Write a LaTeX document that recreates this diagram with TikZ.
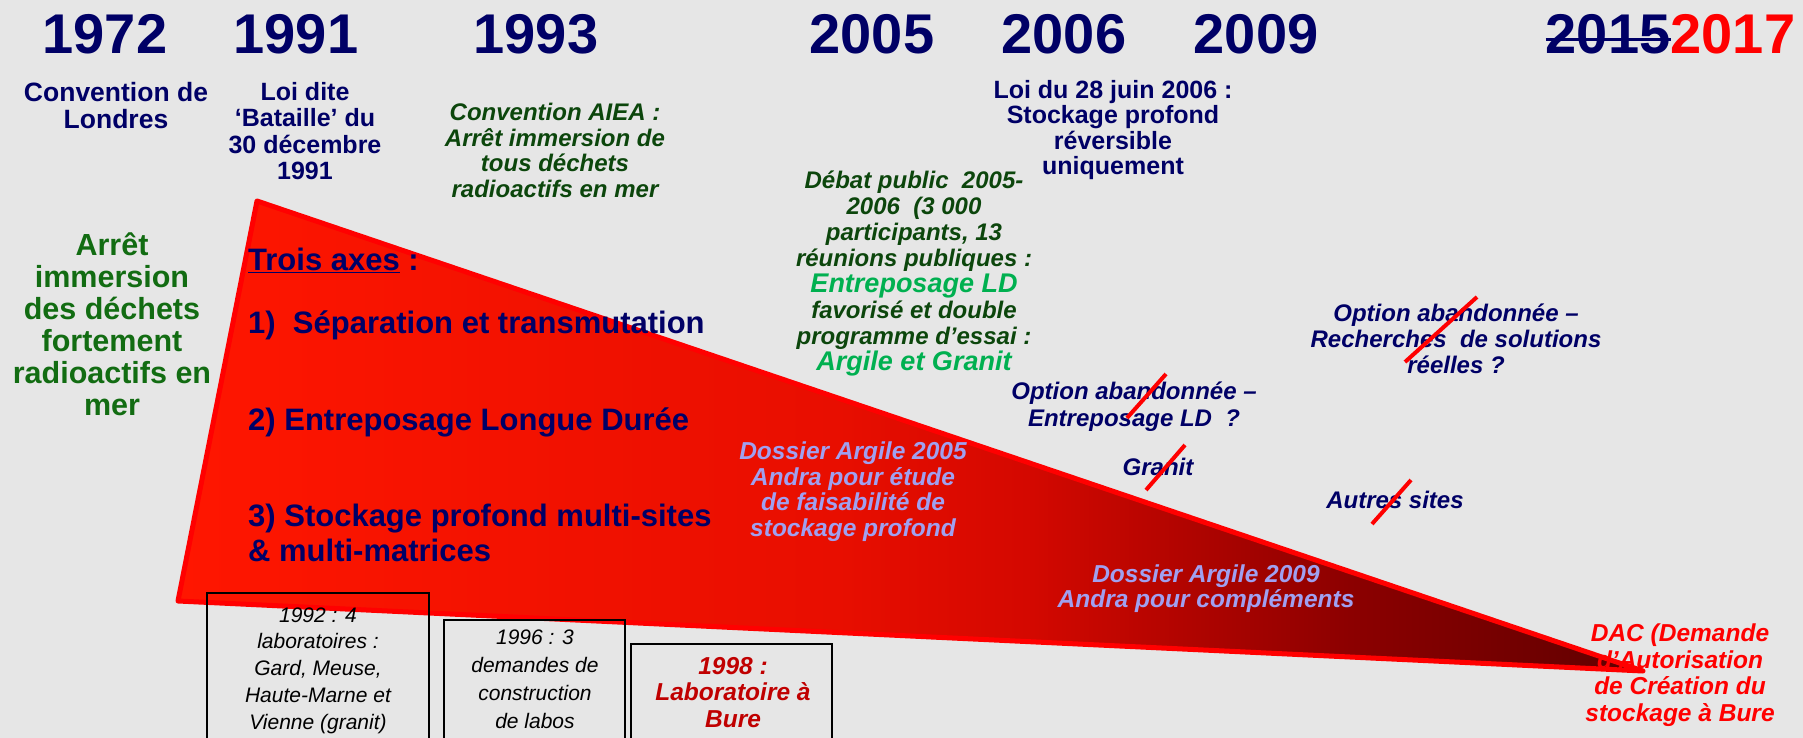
\documentclass[tikz,border=0pt]{standalone}
\usepackage{fontspec}
\setmainfont{Liberation Sans}

\definecolor{bggray}{RGB}{230,230,230}
\definecolor{yearblue}{RGB}{0,0,102}
\definecolor{leafgreen}{RGB}{18,108,18}
\definecolor{darkgreen}{RGB}{12,70,12}
\definecolor{lightgreen}{RGB}{0,176,80}
\definecolor{lavender}{RGB}{160,160,240}
\definecolor{darkred}{RGB}{192,0,0}
\definecolor{fadeA}{RGB}{255,22,0}
\definecolor{fadeB}{RGB}{232,14,0}
\definecolor{fadeC}{RGB}{212,8,0}
\definecolor{fadeD}{RGB}{140,0,0}
\definecolor{fadeE}{RGB}{95,0,0}

\pgfdeclarehorizontalshading{redfade}{100bp}{color(0bp)=(fadeA); color(25bp)=(fadeA); color(47.5bp)=(fadeB); color(54bp)=(fadeC); color(65bp)=(fadeD); color(75bp)=(fadeE); color(100bp)=(fadeE)}

\newcommand\setfs[2]{\fontsize{#1}{#2}\selectfont}

\tikzset{
  every node/.style={inner sep=0pt, align=center},
  yeartag/.style={font=\setfs{56}{60}\bfseries, text=yearblue},
  lawtext/.style={anchor=base, font=\setfs{25}{25.5}\bfseries, text=yearblue},
  seatext/.style={anchor=base, font=\setfs{24}{25.5}\bfseries\itshape, text=darkgreen},
  axistext/.style={anchor=base west, align=left, font=\setfs{31}{34.5}\bfseries, text=yearblue},
  droptext/.style={anchor=base, font=\setfs{24}{26}\bfseries\itshape, text=yearblue},
  filetext/.style={anchor=base, font=\setfs{24.5}{25.5}\bfseries\itshape, text=lavender},
  labbox/.style={draw=black, line width=1.8pt},
  labtext/.style={anchor=base, font=\setfs{21}{26.7}\itshape, text=black},
  redslash/.style={red, line width=4pt}
}

\begin{document}
\begin{tikzpicture}[x=1pt, y=-1pt]
\fill[bggray] (0,0) rectangle (1803,738);
\useasboundingbox (0,0) rectangle (1803,738);

\node[yeartag] (y72) at (105,34) {1972};
\node[yeartag] (y91) at (296,34) {1991};
\node[yeartag] (y93) at (536,34) {1993};
\node[yeartag] (y05) at (872,34) {2005};
\node[yeartag] (y06) at (1064,34) {2006};
\node[yeartag] (y09) at (1256,34) {2009};
\node[yeartag] (y15) at (1608,34) {2015};
\node[yeartag, text=red, anchor=west] (y17) at (y15.east) {2017};
\draw[yearblue, line width=3pt] ([yshift=-6pt]y15.west) -- ([yshift=-6pt]y15.east);

% le triangle
\shadedraw[shading=redfade, draw=red, line width=5pt, line join=round]
  (257,201) -- (178,601) -- (1643,671) -- cycle;

% base = ligne du bas de chaque texte
\node[lawtext, font=\setfs{26.5}{27}\bfseries] (londres) at (116,129) {Convention de\\Londres};
\node[lawtext, font=\setfs{25}{26.5}\bfseries] (bataille) at (305,180) {Loi dite\\‘Bataille’ du\\30 décembre\\1991};
\node[seatext] (aiea) at (555,197) {Convention AIEA :\\Arrêt immersion de\\tous déchets\\radioactifs en mer};
\node[lawtext, font=\setfs{30.5}{32}\bfseries, text=leafgreen] (arret) at (112,415)
  {Arrêt\\immersion\\des déchets\\fortement\\radioactifs en\\mer};
\node[lawtext] (loi06) at (1113,175) {Loi du 28 juin 2006 :\\Stockage profond\\réversible\\uniquement};

\node[axistext] (axes) at (248,270) {\underline{Trois axes} :};
\node[axistext] (axe1) at (248,333) {1)~~Séparation et transmutation};
\node[axistext] (axe2) at (248,430) {2) Entreposage Longue Durée};
\node[axistext] (axe3) at (248,561) {3) Stockage profond multi-sites\\\& multi-matrices};

\node[seatext, font=\setfs{24}{26}\bfseries\itshape] (debat) at (914,370)
  {Débat public~~2005-\\2006~~(3~000\\participants, 13\\réunions publiques :\\
   {\color{lightgreen}\setfs{27}{26}Entreposage LD}\\favorisé et double\\programme d’essai :\\
   {\color{lightgreen}\setfs{27}{26}Argile et Granit}};

\node[filetext] (dos05) at (853,536) {Dossier Argile 2005\\Andra pour étude\\de faisabilité de\\stockage profond};
\node[filetext, font=\setfs{24.5}{25}\bfseries\itshape] (dos09) at (1206,607) {Dossier Argile 2009\\Andra pour compléments};

\node[droptext, font=\setfs{24}{27}\bfseries\itshape] (opt1) at (1134,426) {Option abandonnée –\\Entreposage LD~~?};
\node[droptext] (granit) at (1158,475) {Granit};
\node[droptext, font=\setfs{24}{26}\bfseries\itshape] (opt2) at (1456,373) {Option abandonnée –\\Recherches~~de solutions\\réelles ?};
\node[droptext] (autres) at (1395,508) {Autres sites};

\draw[redslash] (1166,374) -- (1127,418);
\draw[redslash] (1185,445) -- (1146,490);
\draw[redslash] (1477,297) -- (1405,362);
\draw[redslash] (1411,480) -- (1372,524);

\node[filetext, font=\setfs{24.5}{26.5}\bfseries\itshape, text=red] (dac) at (1680,721)
  {DAC (Demande\\d’Autorisation\\de Création du\\stockage à Bure};

% les labos
\draw[labbox] (207,593) rectangle (429,760);
\draw[labbox] (444,620) rectangle (625,760);
\draw[labbox] (631,644) rectangle (832,760);
\node[labtext] (lab92) at (318,729) {1992 : 4\\laboratoires :\\Gard, Meuse,\\Haute-Marne et\\Vienne (granit)};
\node[labtext, font=\setfs{21}{28}\itshape] (lab96) at (535,728) {1996 : 3\\demandes de\\construction\\de labos};
\node[labtext, font=\setfs{24.5}{26.5}\bfseries\itshape, text=darkred] (lab98) at (733,727) {1998 :\\Laboratoire à\\Bure};

\end{tikzpicture}
\end{document}
